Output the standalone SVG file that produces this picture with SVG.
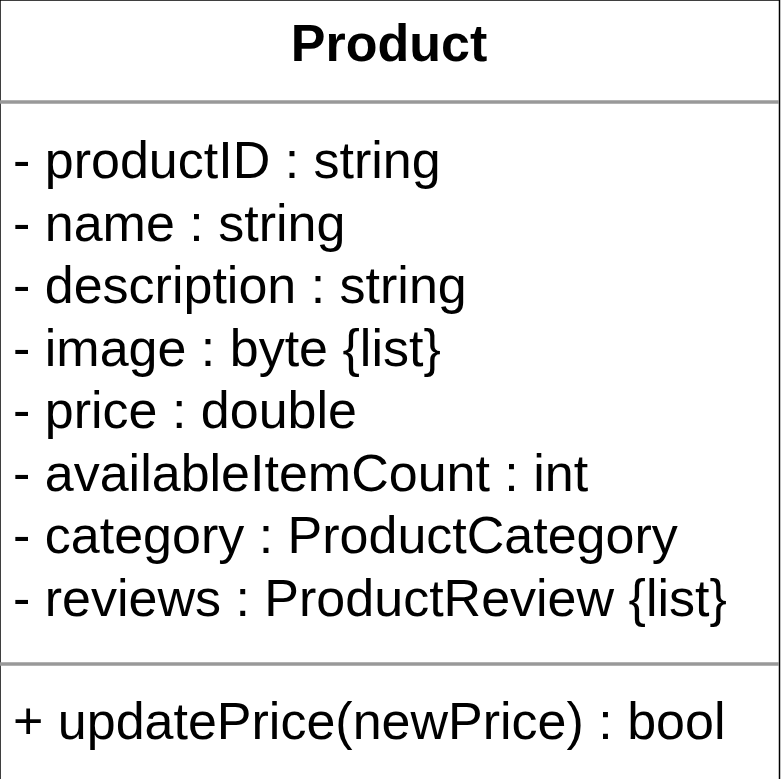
<svg xmlns="http://www.w3.org/2000/svg" width="782" height="779" viewBox="0 0 782 779">
<style>
.box{fill:#fff;stroke:#000;stroke-width:1.5}
.sep{stroke:#999;stroke-width:3.5}
.t{font-family:"Liberation Sans",Arial,Helvetica,sans-serif;font-size:52px;fill:#000}
.title{font-weight:bold;font-size:52px;text-anchor:middle}
</style>
<rect width="782" height="779" fill="#fff"/>
<g id="product">
<rect class="box" x="0" y="0" width="779.5" height="820"/>
<text class="t title" x="389" y="61">Product</text>
<line class="sep" x1="0" y1="102" x2="779" y2="102"/>
<text class="t" x="13" y="178">- productID : string</text>
<text class="t" x="13" y="240.5">- name : string</text>
<text class="t" x="13" y="303">- description : string</text>
<text class="t" x="13" y="365.5">- image : byte {list}</text>
<text class="t" x="13" y="428">- price : double</text>
<text class="t" x="13" y="490.5">- availableItemCount : int</text>
<text class="t" x="13" y="553">- category : ProductCategory</text>
<text class="t" x="13" y="615.5">- reviews : ProductReview {list}</text>
<line class="sep" x1="0" y1="664" x2="779" y2="664"/>
<text class="t" x="13" y="739">+ updatePrice(newPrice) : bool</text>
</g>
<g id="connectors"/>
</svg>
